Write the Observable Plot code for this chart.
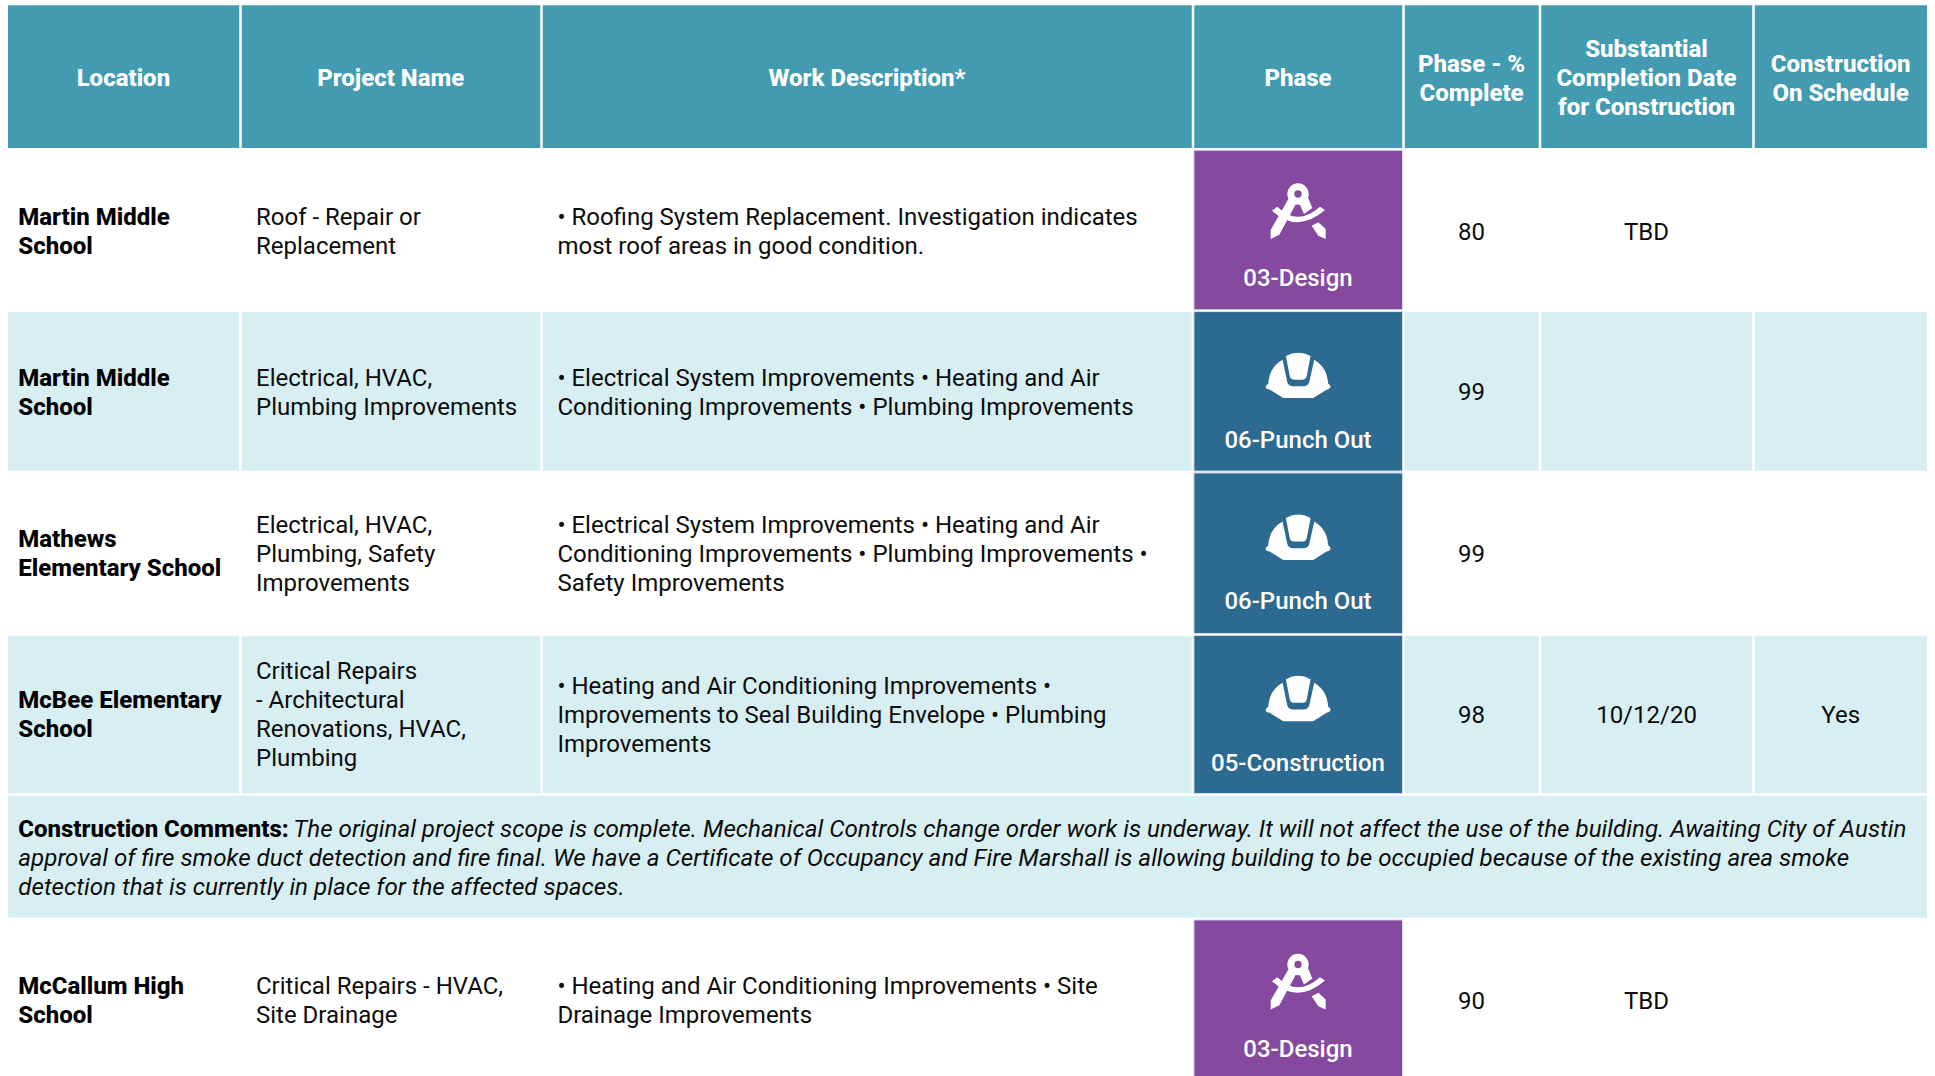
<!DOCTYPE html>
<html>
<head>
<meta charset="utf-8">
<script src="https://cdn.jsdelivr.net/npm/d3@7"></script>
<script src="https://cdn.jsdelivr.net/npm/@observablehq/plot@0.6"></script>
<style>
html,body{margin:0;padding:0;background:#fff;overflow:hidden}
svg{display:block}
</style>
</head>
<body>
<div id="chart"></div>
<script>
const headers = ["Location","Project Name","Work Description*","Phase","Phase - %\nComplete","Substantial\nCompletion Date\nfor Construction","Construction\nOn Schedule"];
const locations = ["Martin Middle\nSchool","Martin Middle\nSchool","Mathews\nElementary School","McBee Elementary\nSchool","McCallum High\nSchool"];
const projects = ["Roof - Repair or\nReplacement","Electrical, HVAC,\nPlumbing Improvements","Electrical, HVAC,\nPlumbing, Safety\nImprovements","Critical Repairs\n- Architectural\nRenovations, HVAC,\nPlumbing","Critical Repairs - HVAC,\nSite Drainage"];
const descriptions = [
  "• Roofing System Replacement. Investigation indicates\nmost roof areas in good condition.",
  "• Electrical System Improvements • Heating and Air\nConditioning Improvements • Plumbing Improvements",
  "• Electrical System Improvements • Heating and Air\nConditioning Improvements • Plumbing Improvements •\nSafety Improvements",
  "• Heating and Air Conditioning Improvements •\nImprovements to Seal Building Envelope • Plumbing\nImprovements",
  "• Heating and Air Conditioning Improvements • Site\nDrainage Improvements"
];
const phases = ["03-Design","06-Punch Out","06-Punch Out","05-Construction","03-Design"];
const percents = ["80","99","99","98","90"];
const dates = ["TBD","","","10/12/20","TBD"];
const onSchedule = ["","","","Yes",""];
const commentLead = "Construction Comments:";
const commentLines = [
  "The original project scope is complete. Mechanical Controls change order work is underway. It will not affect the use of the building. Awaiting City of Austin",
  "approval of fire smoke duct detection and fire final. We have a Certificate of Occupancy and Fire Marshall is allowing building to be occupied because of the existing area smoke",
  "detection that is currently in place for the affected spaces."
];

// Row index on the y scale: 0 header, 1–4 projects, 5 comments, 6 last project
const rowIndex = [1, 2, 3, 4, 6];
const shadedRows = [2, 4, 5];
const rows = phases.map((phase, i) => ({
  row: rowIndex[i], location: locations[i], project: projects[i], description: descriptions[i],
  phase, percent: percents[i], date: dates[i], schedule: onSchedule[i]
}));
const columnEdges = d3.range(8);
const rowEdges = d3.range(8);
const stripes = [];
for (const r of shadedRows) for (const c of (r === 5 ? [null] : d3.range(7))) stripes.push({r, c});

const TEAL = "#429bb0", LIGHT = "#d7eff2", PURPLE = "#8549a0", BLUE = "#2c6a91", INK = "#0c0c0c";
const phaseFill = p => p.startsWith("03") ? PURPLE : BLUE;
const FS = 24, LH = 29 / 24, BOLD = 800, DY = -1;
const textMid = {1: 0.505, 2: 0.5, 3: 0.497, 4: 0.497, 6: 0.497};

// Icon outlines, drawn as custom dot symbols around the dot's centre.
const hatSymbol = {draw(c) {
  const X = x => (x - 355) / 3, Y = y => (y - 225) / 3;
  c.moveTo(X(257),Y(260));
  c.quadraticCurveTo(X(258),Y(254),X(265),Y(250));
  c.bezierCurveTo(X(268),Y(215),X(280),Y(195),X(308),Y(178));
  c.lineTo(X(322),Y(245));
  c.quadraticCurveTo(X(326),Y(258),X(340),Y(258));
  c.lineTo(X(370),Y(258));
  c.quadraticCurveTo(X(384),Y(258),X(388),Y(245));
  c.lineTo(X(403),Y(178));
  c.bezierCurveTo(X(430),Y(195),X(442),Y(215),X(445),Y(250));
  c.quadraticCurveTo(X(452),Y(254),X(452),Y(260));
  c.quadraticCurveTo(X(450),Y(266),X(440),Y(268));
  c.lineTo(X(400),Y(293));
  c.lineTo(X(310),Y(293));
  c.lineTo(X(270),Y(268));
  c.quadraticCurveTo(X(258),Y(266),X(257),Y(260));
  c.closePath();
  c.moveTo(X(318),Y(167));
  c.quadraticCurveTo(X(355),Y(147),X(392),Y(167));
  c.lineTo(X(381),Y(225));
  c.quadraticCurveTo(X(379),Y(238),X(368),Y(238));
  c.lineTo(X(342),Y(238));
  c.quadraticCurveTo(X(331),Y(238),X(329),Y(225));
  c.closePath();
}};
const compassSymbol = {draw(c) {
  const X = x => (x - 354) / 3, Y = y => (y - 241) / 3;
  c.moveTo(X(354)+32/3,Y(190));
  c.arc(X(354),Y(190),32/3,0,2*Math.PI,false);
  c.closePath();
  c.moveTo(X(354)+11/3,Y(190));
  c.arc(X(354),Y(190),11/3,0,2*Math.PI,true);
  c.closePath();
  const poly = pts => {
    pts.forEach(([x,y],i) => i ? c.lineTo(X(x),Y(y)) : c.moveTo(X(x),Y(y)));
    c.closePath();
  };
  poly([[325,205],[352,212],[298,312],[272,325],[272,298]]);
  poly([[355,212],[385,203],[397,232],[372,250]]);
  poly([[395,285],[415,275],[437,295],[437,325],[415,315]]);
  c.moveTo(X(292),Y(228));
  c.quadraticCurveTo(X(352),Y(288),X(420),Y(228));
  c.lineTo(X(435),Y(238));
  c.quadraticCurveTo(X(352),Y(310),X(276),Y(240));
  c.closePath();
}};

const leftCol = (col, field, dx, extra = {}) => Plot.text(rows, {
  x: () => col, y: d => d.row + textMid[d.row], text: field, textAnchor: "start", dx, dy: DY,
  fontSize: FS, lineHeight: LH, fill: INK, ...extra
});
const centerCol = (col, field) => Plot.text(rows, {
  x: () => col + 0.5, y: d => d.row + textMid[d.row], text: field, dx: -0.75, dy: DY, fontSize: FS, lineHeight: LH, fill: INK
});
const commentRow = [{row: 5}];

const chart = Plot.plot({
  width: 1935,
  height: 1076,
  margin: 0,
  style: {fontFamily: "Roboto", background: "#fff"},
  x: {type: "linear", domain: columnEdges, range: [6.75, 240.5, 541.5, 1193, 1403.5, 1540, 1753.5, 1928.25], axis: null},
  y: {type: "linear", domain: rowEdges, range: [4, 149.3, 310.7, 472, 634.5, 794.5, 919, 1082], axis: null},
  marks: [
    Plot.rect(d3.range(7), {x1: c => c, x2: c => c + 1, y1: () => 0, y2: () => 1, fill: TEAL, inset: 1.25}),
    Plot.rect(stripes, {
      x1: d => d.c === null ? 0 : d.c, x2: d => d.c === null ? 7 : d.c + 1,
      y1: d => d.r, y2: d => d.r + 1, fill: LIGHT, inset: 1.25
    }),
    Plot.rect(rows, {x1: () => 3, x2: () => 4, y1: d => d.row, y2: d => d.row + 1, fill: "#fff", stroke: "none"}),
    Plot.rect(rows, {x1: () => 3, x2: () => 4, y1: d => d.row, y2: d => d.row + 1, fill: d => phaseFill(d.phase), stroke: "#dbe4ee", strokeWidth: 1, inset: 0.9}),
    Plot.dot(rows.filter(d => d.phase.startsWith("03")), {x: () => 3.5, y: d => d.row + 0.5, symbol: compassSymbol, r: 10, fill: "#fff", stroke: "none", dx: -0.75, dy: -19.5}),
    Plot.dot(rows.filter(d => !d.phase.startsWith("03")), {x: () => 3.5, y: d => d.row + 0.5, symbol: hatSymbol, r: 10, fill: "#fff", stroke: "none", dx: -0.5, dy: -16.5}),
    Plot.text(rows, {x: () => 3.5, y: d => d.row + 0.5, text: "phase", dx: -0.75, dy: 48, fontSize: FS, fontWeight: 500, fill: "#fff"}),
    Plot.text(headers, {x: (d, i) => i + 0.5, y: () => 0.5, text: d => d, dx: -0.75, dy: -0.25, fontSize: FS, fontWeight: BOLD, lineHeight: LH, fill: "#fff"}),
    leftCol(0, "location", 11, {fontWeight: BOLD, fill: "#000"}),
    leftCol(1, "project", 15),
    leftCol(2, "description", 15.4),
    centerCol(4, "percent"),
    centerCol(5, "date"),
    centerCol(6, "schedule"),
    Plot.text(commentRow, {x: () => 0, y: () => 5.5, text: () => commentLead + "\n\n", textAnchor: "start", dx: 11, dy: DY, fontSize: FS, fontWeight: BOLD, lineHeight: LH, fill: "#000"}),
    Plot.text(commentRow, {x: () => 0, y: () => 5.5, text: () => commentLines[0] + "\n\n", textAnchor: "start", dx: 286, dy: DY, fontSize: 24.2, fontStyle: "italic", lineHeight: 29 / 24.2, fill: INK}),
    Plot.text(commentRow, {x: () => 0, y: () => 5.5, text: () => "\n" + commentLines[1] + "\n" + commentLines[2], textAnchor: "start", dx: 11, dy: DY, fontSize: 24.2, fontStyle: "italic", lineHeight: 29 / 24.2, fill: INK})
  ]
});
document.getElementById("chart").appendChild(chart);
</script>
</body>
</html>
